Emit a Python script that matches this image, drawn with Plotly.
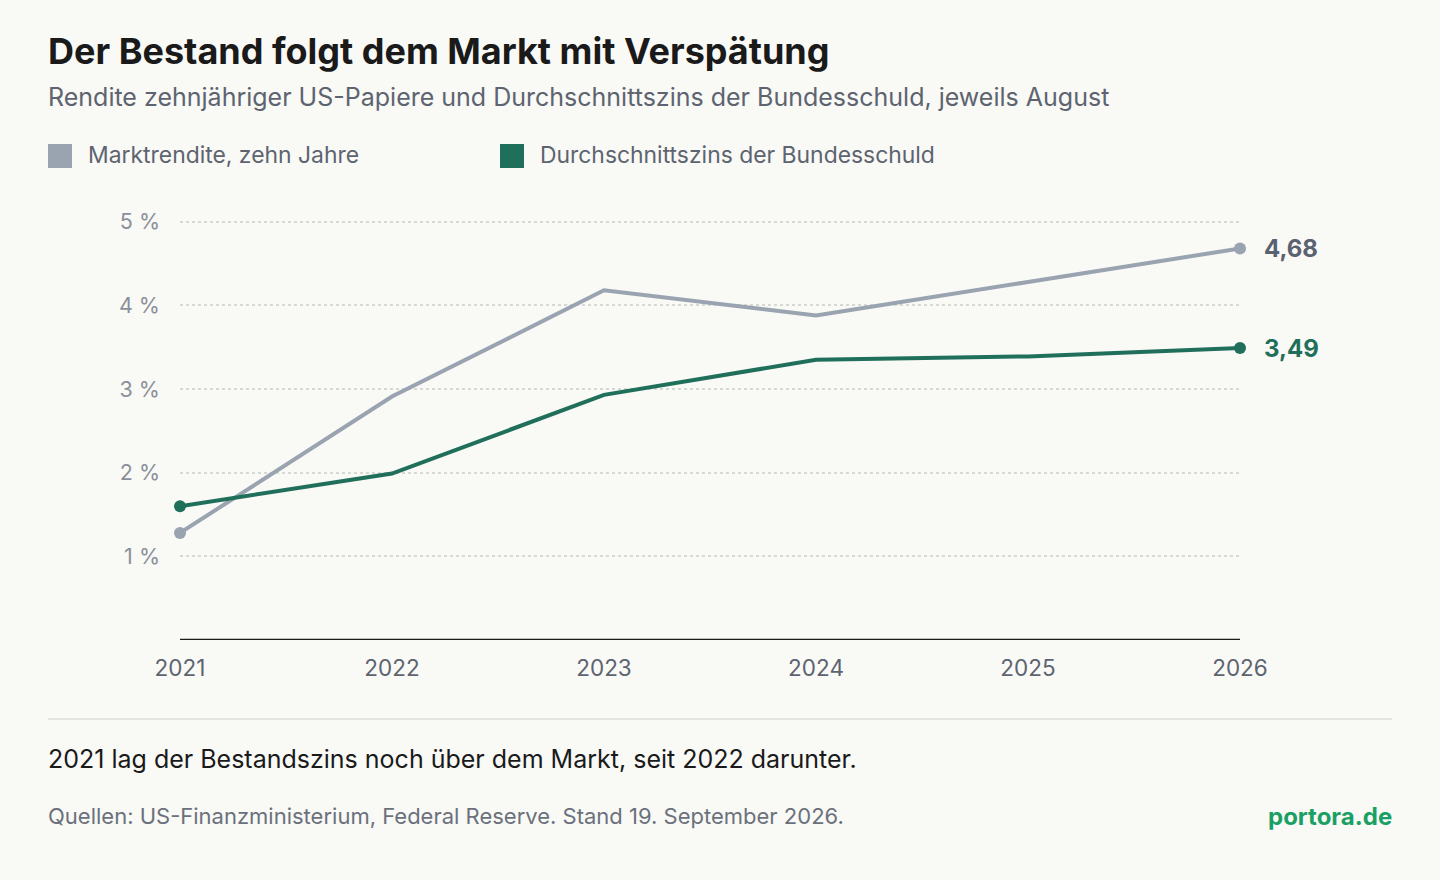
import plotly.graph_objects as go

years = [2021, 2022, 2023, 2024, 2025, 2026]
markt = [1.28, 2.91, 4.18, 3.88, 4.28, 4.68]
bestand = [1.60, 1.99, 2.93, 3.35, 3.39, 3.49]
ytick_vals = [1, 2, 3, 4, 5]
ytick_text = ["1 %", "2 %", "3 %", "4 %", "5 %"]
legend_names = ["Marktrendite, zehn Jahre", "Durchschnittszins der Bundesschuld"]

GRAY = "#9aa3b0"
GREEN = "#1f6f5a"
BG = "#f9f9f6"
L, R, T, B = 180, 1240, 205, 640
W, H = 1440, 880

def px(x):
    return (x - L) / (R - L)

def py(y):
    return (B - y) / (B - T)

fig = go.Figure()
fig.add_trace(go.Scatter(x=years, y=markt, mode="lines", line=dict(color=GRAY, width=4),
                         showlegend=False, cliponaxis=False, hoverinfo="skip"))
fig.add_trace(go.Scatter(x=years, y=bestand, mode="lines", line=dict(color=GREEN, width=4),
                         showlegend=False, cliponaxis=False, hoverinfo="skip"))
for ys, c in [(markt, GRAY), (bestand, GREEN)]:
    fig.add_trace(go.Scatter(x=[years[0], years[-1]], y=[ys[0], ys[-1]], mode="markers",
                             marker=dict(color=c, size=12), showlegend=False, cliponaxis=False))

fig.update_layout(
    width=W, height=H, paper_bgcolor=BG, plot_bgcolor=BG,
    margin=dict(l=L, r=W - R, t=T, b=H - B),
    font=dict(family="Inter", color="#5d6470"),
    showlegend=False,
    xaxis=dict(range=[2021, 2026], tickvals=years, ticktext=[str(y) for y in years],
               showgrid=False, zeroline=False, showline=False,
               tickfont=dict(size=22.5, color="#5d6470"), ticklabelstandoff=12, fixedrange=True),
    yaxis=dict(range=[0, 5.2], tickvals=ytick_vals, ticktext=ytick_text, showgrid=True,
               gridcolor="#d6d8d4", griddash="dot", gridwidth=1.5, zeroline=False, showline=False,
               tickfont=dict(size=21.5, color="#8a909a"), ticklabelstandoff=19),
)
fig.add_shape(type="line", xref="x", yref="y", x0=2021, x1=2026, y0=0, y1=0,
              line=dict(color="#1a1a1a", width=2.5))
fig.add_shape(type="line", xref="paper", yref="paper", x0=px(48), x1=px(1392), y0=py(719), y1=py(719),
              line=dict(color="#dcdcd8", width=1.5))

def ann(x, y, text, size, color, anchor="left", bold=False):
    fig.add_annotation(xref="paper", yref="paper", x=px(x), y=py(y), text=f"<b>{text}</b>" if bold else text,
                       showarrow=False, xanchor=anchor, yanchor="middle", xshift=-2,
                       font=dict(size=size, color=color, family="Inter"))

for x0, name, c in [(48, legend_names[0], GRAY), (500, legend_names[1], GREEN)]:
    fig.add_shape(type="rect", xref="paper", yref="paper", x0=px(x0), x1=px(x0 + 24),
                  y0=py(168), y1=py(144), fillcolor=c, line=dict(width=0))
    ann(x0 + 40, 155, name, 22.9, "#5d6470")

ann(48, 51, "Der Bestand folgt dem Markt mit Verspätung", 36, "#1a1a1a", bold=True)
ann(48, 97, "Rendite zehnjähriger US-Papiere und Durchschnittszins der Bundesschuld, jeweils August", 25, "#5d6470")
ann(1264, 248, "4,68", 24, "#5a6170", bold=True)
ann(1264, 348, "3,49", 24, GREEN, bold=True)
ann(48, 759, "2021 lag der Bestandszins noch über dem Markt, seit 2022 darunter.", 25, "#1a1a1a")
ann(48, 816, "Quellen: US-Finanzministerium, Federal Reserve. Stand 19. September 2026.", 22, "#6b717c")
ann(1396, 816, "portora.de", 24, "#1aa064", anchor="right", bold=True)

fig.write_html("out.html", config={"displayModeBar": False},
               post_script="document.body.style.margin='0';document.body.style.background='#f9f9f6';")
